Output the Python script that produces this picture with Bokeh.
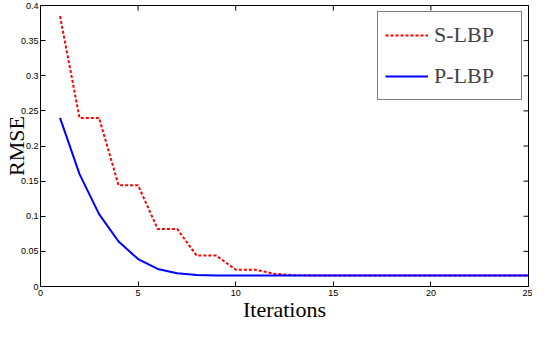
import math
from bokeh.plotting import figure
from bokeh.models import FixedTicker, Legend, LegendItem, Range1d
from bokeh.embed import file_html
from bokeh.resources import INLINE

iterations = list(range(1, 26))
s_lbp = [0.385, 0.240, 0.240, 0.144, 0.144, 0.082, 0.082, 0.044, 0.044, 0.024,
         0.024, 0.018, 0.016, 0.0158, 0.0157, 0.0157, 0.0157, 0.0157, 0.0157, 0.0157,
         0.0157, 0.0157, 0.0157, 0.0157, 0.0157]
p_lbp = [0.240, 0.160, 0.103, 0.064, 0.039, 0.025, 0.019, 0.0165, 0.0158, 0.0156,
         0.0156, 0.0156, 0.0156, 0.0156, 0.0156, 0.0156, 0.0156, 0.0156, 0.0156, 0.0156,
         0.0156, 0.0156, 0.0156, 0.0156, 0.0156]
x_ticks = [0, 5, 10, 15, 20, 25]
y_ticks = [0, 0.05, 0.1, 0.15, 0.2, 0.25, 0.3, 0.35, 0.4]
y_tick_labels = ["0", "0.05", "0.1", "0.15", "0.2", "0.25", "0.3", "0.35", "0.4"]
x_min, x_max = 0, 25
y_min, y_max = 0, 0.4

p = figure(width=532, height=324, output_backend="svg", toolbar_location=None,
           x_range=Range1d(x_min, x_max), y_range=Range1d(y_min, y_max),
           min_border_left=0, min_border_right=4, min_border_top=5, min_border_bottom=0)
p.xgrid.visible = False
p.ygrid.visible = False
p.outline_line_color = "black"
p.outline_line_width = 1

serif = "Liberation Serif"
tick_font = "Liberation Sans"

ax = p.xaxis[0]
ay = p.yaxis[0]
ax.ticker = FixedTicker(ticks=x_ticks)
ay.ticker = FixedTicker(ticks=y_ticks)
ay.major_label_overrides = {v: s for v, s in zip(y_ticks, y_tick_labels)}
for a in (ax, ay):
    a.major_tick_in = 5
    a.major_tick_out = 0
    a.minor_tick_line_color = None
    a.axis_line_color = "black"
    a.major_tick_line_color = "black"
    a.major_label_text_font = tick_font
    a.major_label_text_font_size = "9px"
    a.major_label_text_color = "black"
    a.axis_label_text_font = serif
    a.axis_label_text_font_style = "normal"
    a.axis_label_text_font_size = "22px"
    a.axis_label_text_color = "black"
ax.axis_label = "Iterations"
ay.axis_label = "RMSE"
ax.major_label_standoff = 3
ay.major_label_standoff = 2
ax.axis_label_standoff = -2
ay.axis_label_standoff = -11

# inward ticks on the top and right edges of the box
p.scatter(x_ticks, [y_max] * len(x_ticks), marker="dash", size=10,
          angle=math.pi / 2, line_color="black", line_width=1)
p.scatter([x_max] * len(y_ticks), y_ticks, marker="dash", size=10,
          line_color="black", line_width=1)

r1 = p.line(iterations, s_lbp, line_color="red", line_width=2, line_dash="3 2")
r2 = p.line(iterations, p_lbp, line_color="blue", line_width=2)

legend = Legend(items=[LegendItem(label="S-LBP", renderers=[r1]),
                       LegendItem(label="P-LBP", renderers=[r2])],
                location="top_right")
legend.border_line_color = "black"
legend.border_line_width = 1
legend.background_fill_color = "white"
legend.background_fill_alpha = 1
legend.label_text_font = serif
legend.label_text_font_size = "22px"
legend.glyph_width = 43
legend.glyph_height = 32
legend.label_height = 32
legend.label_width = 80
legend.spacing = 9
legend.padding = 7
legend.margin = 6
legend.label_standoff = 6
p.add_layout(legend)

open("out.html", "w").write(file_html(p, INLINE))
